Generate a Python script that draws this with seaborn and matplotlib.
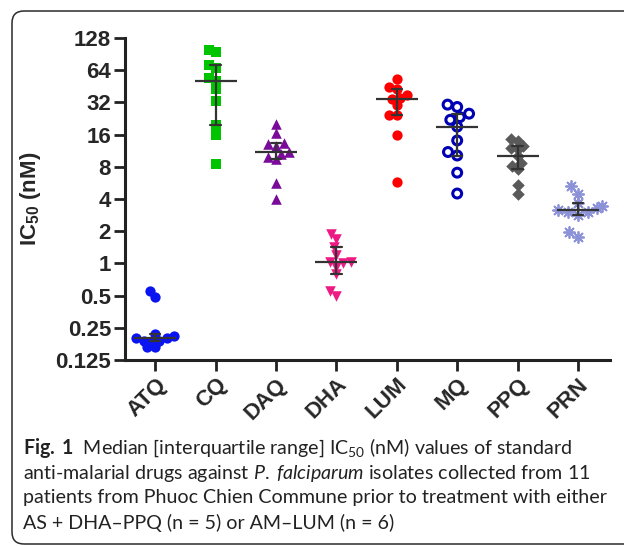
import numpy as np
import pandas as pd
import seaborn as sns
import matplotlib.pyplot as plt
from matplotlib.markers import MarkerStyle
from matplotlib.patches import FancyBboxPatch
from matplotlib.transforms import IdentityTransform

drugs = ["ATQ", "CQ", "DAQ", "DHA", "LUM", "MQ", "PPQ", "PRN"]

# IC50 (nM) of the 11 isolates
atq = [0.55, 0.49, 0.22, 0.21, 0.20, 0.20, 0.19, 0.19, 0.19, 0.165, 0.165]
cq = [98.6, 94.5, 72, 67, 54, 50.3, 42.3, 33.2, 19.8, 16, 8.5]
daq = [20.2, 16.5, 13.3, 13.0, 12.6, 11.0, 10.6, 9.9, 9.4, 5.6, 4.0]
dha = [1.9, 1.68, 1.41, 1.21, 1.04, 1.04, 1.0, 0.93, 0.79, 0.55, 0.50]
lum = [52.5, 44.5, 43, 37.2, 35.4, 34.1, 30, 24.6, 24.6, 16, 5.8]
mq = [30.5, 29, 25.1, 23.3, 22, 19, 14.1, 11, 10.2, 7.05, 4.5]
ppq = [14.4, 13.8, 12.6, 12.0, 11.8, 10.0, 8.7, 8.2, 7.7, 5.4, 4.5]
prn = [5.3, 4.5, 3.64, 3.41, 3.30, 3.18, 3.02, 3.02, 2.81, 1.96, 1.76]

yticks = [0.125, 0.25, 0.5, 1, 2, 4, 8, 16, 32, 64, 128]
yticklabels = ["0.125", "0.25", "0.5", "1", "2", "4", "8", "16", "32", "64", "128"]

colors = ["#0a14f0", "#00c400", "#7a0a9a", "#ee1a84", "#ff0000", "#0000b4", "#5a5a5a", "#8c92d8"]
markers = ["o", "s", "^", "v", "o", MarkerStyle("o", fillstyle="none"), "D", (8, 2, 0)]
sizes = [7.4, 7.0, 7.6, 7.6, 7.4, 6.4, 6.4, 8.0]

values = [atq, cq, daq, dha, lum, mq, ppq, prn]
df = pd.concat([pd.DataFrame({"drug": d, "ic50": v}) for d, v in zip(drugs, values)],
               ignore_index=True)

sns.set_theme(style="ticks")
plt.rcParams["font.family"] = ["Liberation Sans", "DejaVu Sans"]
plt.rcParams["mathtext.fontset"] = "custom"
plt.rcParams["mathtext.rm"] = "Lato"
plt.rcParams["mathtext.it"] = "Lato:italic"
plt.rcParams["mathtext.bf"] = "Lato:bold"
plt.rcParams["mathtext.sf"] = "Liberation Sans:bold"

fig = plt.figure(figsize=(6.24, 5.46), dpi=100)
ax = fig.add_axes([125 / 624, 1 - 360 / 546, 485 / 624, 322 / 546])
ax.set_yscale("log", base=2)
ax.set_ylim(0.125, 128)

swarms = []
for d, c, m, s in zip(drugs, colors, markers, sizes):
    sub = df[df["drug"] == d]
    lw = {"PRN": 1.3, "MQ": 2.2}.get(d, 0)
    n0 = len(ax.collections)
    # laid out with smaller markers so the drawn ones overlap a little, Prism style
    sns.swarmplot(data=sub, x="drug", y="ic50", order=drugs, color=c, marker=m,
                  size=s * 0.72, linewidth=lw, ax=ax, warn_thresh=1)
    swarms.append((ax.collections[n0:], s))


def iqr(v):
    return tuple(np.percentile(v, [25, 75], method="weibull"))


sns.pointplot(data=df, x="drug", y="ic50", order=drugs, estimator="median",
              errorbar=iqr, color="#333333", marker="_", markersize=30,
              markeredgewidth=1.6, linestyle="none", capsize=0.17,
              err_kws={"linewidth": 1.6}, ax=ax)
for ln in ax.lines:
    ln.set_zorder(5)

ax.set_ylim(0.125, 128)
ax.set_xlim(-0.5, 7.53)
ax.set_yticks(yticks)
ax.set_yticklabels(yticklabels)
ax.minorticks_off()
ax.tick_params(axis="both", length=8, width=2, color="#222222", labelsize=16, pad=2)
for lab in ax.get_yticklabels():
    lab.set_fontweight("bold")
ax.set_xticks(range(len(drugs)))
ax.set_xticklabels(drugs, rotation=45, ha="right", rotation_mode="anchor",
                   fontweight="bold")
for sp in ["left", "bottom"]:
    ax.spines[sp].set_linewidth(2.2)
    ax.spines[sp].set_color("#222222")
sns.despine(ax=ax)
ax.set_xlabel("")
ax.set_ylabel(r"$\mathsf{IC_{50}}$ (nM)", fontsize=16, fontweight="bold", labelpad=9)

# run the swarm layout once, then freeze it and draw the markers at full size
fig.canvas.draw()
for colls, s in swarms:
    for coll in colls:
        if "draw" in coll.__dict__:
            del coll.draw
        coll.set_sizes([s ** 2])

# caption frame
box = FancyBboxPatch((12, 2), 640, 533, boxstyle="round,pad=0,rounding_size=12",
                     transform=IdentityTransform(), facecolor="none",
                     edgecolor="#2b2b2b", linewidth=1.1)
fig.add_artist(box)

cap = [
    r"$\mathbf{Fig.\;1}$  Median [interquartile range] IC$_{\mathrm{50}}$ (nM) values of standard",
    r"anti-malarial drugs against $\mathit{P.\;falciparum}$ isolates collected from 11",
    "patients from Phuoc Chien Commune prior to treatment with either",
    "AS + DHA–PPQ (n = 5) or AM–LUM (n = 6)",
]
for i, line in enumerate(cap):
    fig.text(23 / 624, 1 - (448 + 25 * i) / 546, line, fontsize=14.1, family="Lato",
             color="#222222", va="center", ha="left")

fig.savefig("out.png", dpi=100)
